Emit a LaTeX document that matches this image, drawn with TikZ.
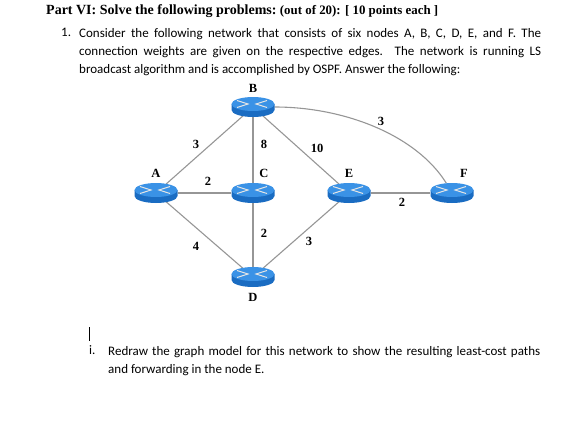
\documentclass[tikz,border=0pt]{standalone}
\usepackage{fontspec}
\setmainfont{Carlito}
\newfontfamily\serifbold[Ligatures=TeX]{Liberation Serif}
\usetikzlibrary{shapes.geometric,backgrounds}
\definecolor{routerTop}{RGB}{58,146,230}
\definecolor{routerSide}{RGB}{26,108,194}
\definecolor{edgeGray}{RGB}{150,150,150}
\tikzset{
    router/.style={ellipse,minimum width=43pt,minimum height=20pt,inner sep=0pt},
    edge/.style={draw=edgeGray,line width=1.1pt},
    lbl/.style={font=\serifbold\bfseries\fontsize{12.5}{13}\selectfont,inner sep=0pt},
    line/.style={anchor=west,inner sep=0pt,text width=#1,align=justify,font=\fontsize{13}{18.3}\selectfont}
}
\begin{document}
\begin{tikzpicture}[x=1pt,y=-1pt]
    \useasboundingbox (0,0) rectangle (584,442);
    % text above and below the graph
    \node [anchor=west,inner sep=0pt,font=\serifbold\bfseries] (title) at (46,11)
        {{\fontsize{14}{15}\selectfont Part VI: Solve the following problems:} {\fontsize{12.9}{13}\selectfont (out of 20): [ 10 points each ]}};
    \node [anchor=west,inner sep=0pt,font=\fontsize{13}{14}\selectfont] (num) at (61,32) {1.};
    \node [line=462pt,anchor=north west] (question) at (79,28)
        {Consider the following network that consists of six nodes A, B, C, D, E, and F. The\linebreak
        connection weights are given on the respective edges. The network is running LS\linebreak
        broadcast algorithm and is accomplished by OSPF. Answer the following:};
    \coordinate (cursorTop) at (89,327);
    \coordinate (cursorBot) at (89,341);
    \draw [line width=0.7pt] (cursorTop) -- (cursorBot);
    \node [anchor=west,inner sep=0pt,font=\fontsize{13}{14}\selectfont] (numi) at (89,350) {i.};
    \node [line=432pt,anchor=north west] (task) at (108,346)
        {Redraw the graph model for this network to show the resulting least-cost paths\linebreak
        and forwarding in the node E.};
    % routers
    \node [router] (A) at (156,193) {};
    \node [router] (B) at (253,107) {};
    \node [router] (C) at (253,193) {};
    \node [router] (D) at (253,277) {};
    \node [router] (E) at (349,193) {};
    \node [router] (F) at (452,193) {};
    \foreach \n in {A,B,C,D,E,F}
        {\begin{scope}[shift={(\n.center)}]
            \fill [routerSide] (-21.5,-3) -- (-21.5,3) arc [start angle=180,end angle=0,x radius=21.5,y radius=7] -- (21.5,-3) -- cycle;
            \fill [routerTop] (0,-3) ellipse [x radius=21.5,y radius=7];
            \draw [white!80!gray,line width=1pt] (-16,-6.5) -- (-5,-3) -- (-16,0.5);
            \draw [white!80!gray,line width=1pt] (14,-6.5) -- (3,-3) -- (14,0.5);
        \end{scope}}
    % links
    \begin{scope}[on background layer]
        \draw [edge] (A) -- (B);
        \draw [edge] (B) -- (C);
        \draw [edge] (B) -- (E);
        \draw [edge] (A) -- (C);
        \draw [edge] (A) -- (D);
        \draw [edge] (C) -- (D);
        \draw [edge] (D) -- (E);
        \draw [edge] (E) -- (F);
        \draw [edge] (B.east) .. controls +(70,0) and +(-30,-48) .. (F.120);
    \end{scope}
    % router names
    \node [lbl] (nameA) at (156,173) {A};
    \node [lbl] (nameB) at (253,88) {B};
    \node [lbl] (nameC) at (264,173) {C};
    \node [lbl] (nameD) at (253,297) {D};
    \node [lbl] (nameE) at (349,173) {E};
    \node [lbl] (nameF) at (464,173) {F};
    % weights
    \node [lbl] (wAB) at (196,144) {3};
    \node [lbl] (wBC) at (264,144) {8};
    \node [lbl] (wBE) at (317,148) {10};
    \node [lbl] (wBF) at (381,121) {3};
    \node [lbl] (wAC) at (208,181) {2};
    \node [lbl] (wEF) at (402,202) {2};
    \node [lbl] (wCD) at (264,233) {2};
    \node [lbl] (wDE) at (309,241) {3};
    \node [lbl] (wAD) at (196,246) {4};
\end{tikzpicture}
\end{document}
